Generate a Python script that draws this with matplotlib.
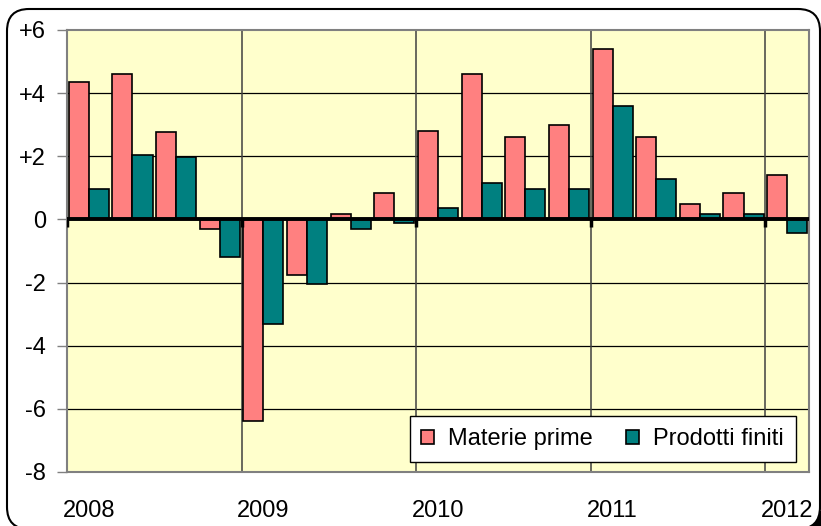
import matplotlib
matplotlib.use("Agg")
import matplotlib.pyplot as plt
from matplotlib.patches import FancyBboxPatch
from matplotlib.transforms import IdentityTransform
import numpy as np

plt.rcParams['font.family'] = ['Liberation Sans', 'DejaVu Sans']

# quarterly changes, 2008 Q1 .. 2012 Q1
anni = ['2008', '2009', '2010', '2011', '2012']
materie_prime = [4.35, 4.6, 2.77, -0.3,
                 -6.4, -1.75, 0.18, 0.85,
                 2.8, 4.6, 2.6, 3.0,
                 5.4, 2.6, 0.5, 0.85,
                 1.4]
prodotti_finiti = [0.96, 2.05, 1.98, -1.2,
                   -3.3, -2.05, -0.3, -0.12,
                   0.36, 1.15, 0.97, 0.97,
                   3.6, 1.28, 0.18, 0.18,
                   -0.42]
y_ticks = [-8, -6, -4, -2, 0, 2, 4, 6]
y_labels = ['-8', '-6', '-4', '-2', '0', '+2', '+4', '+6']

W, H = 821, 526
fig = plt.figure(figsize=(W/100, H/100), dpi=100)
ax = fig.add_axes([67/W, 1-472/H, (809-67)/W, (472-30)/H])
ax.set_facecolor('#FFFFCC')

# rounded frame (pixel coords, origin bottom-left)
frame = FancyBboxPatch((7, -3), 813, H - 9 + 3,
                       boxstyle="round,pad=0,rounding_size=22",
                       transform=IdentityTransform(), facecolor='white',
                       edgecolor='black', lw=1.5, zorder=-1)
fig.patches.append(frame)
# dark corner of the frame shadow, bottom right
corner = FancyBboxPatch((790, -30), 60, 45,
                        boxstyle="round,pad=0,rounding_size=22",
                        transform=IdentityTransform(), facecolor='black',
                        edgecolor='none', zorder=-2)
fig.patches.append(corner)

n = len(materie_prime)
x = np.arange(n)
w = 0.46
ax.bar(x - w/2, materie_prime, w, color='#FF8080', edgecolor='black', lw=1.2,
       label='Materie prime', zorder=3)
ax.bar(x + w/2, prodotti_finiti, w, color='#008080', edgecolor='black', lw=1.2,
       label='Prodotti finiti', zorder=3)

ax.set_xlim(-0.5, n - 0.5)
ax.set_ylim(-8, 6)

# grid
for yv in y_ticks[1:-1]:
    ax.axhline(yv, color='black', lw=0.9, zorder=1)
year_edges = np.arange(-0.5, n, 4)
for xv in year_edges[1:]:
    ax.axvline(xv, color='#404040', lw=1.1, zorder=1)

# zero axis with small ticks at year boundaries
ax.axhline(0, color='black', lw=2.8, zorder=4)
ax.vlines(year_edges, -0.25, 0, color='black', lw=2.5, zorder=4)

ax.set_yticks(y_ticks)
ax.set_yticklabels(y_labels, fontsize=17)
ax.set_xticks(x[::4])
ax.set_xticklabels(anni, fontsize=17)
ax.tick_params(axis='x', length=0, pad=20)
ax.tick_params(axis='y', length=7, width=1, color='#808080', pad=8)
for s in ax.spines.values():
    s.set_color('#808080')
    s.set_linewidth(1.5)

leg = ax.legend(loc='lower right', ncol=2, fontsize=17, frameon=True,
                fancybox=False, edgecolor='black', framealpha=1,
                handlelength=0.55, handleheight=0.55, handletextpad=0.6,
                columnspacing=1.4, borderpad=0.5, borderaxespad=0,
                bbox_to_anchor=((796-67)/742, (472-462)/442))
leg.get_frame().set_linewidth(1.0)

fig.savefig('out.png', dpi=100)
